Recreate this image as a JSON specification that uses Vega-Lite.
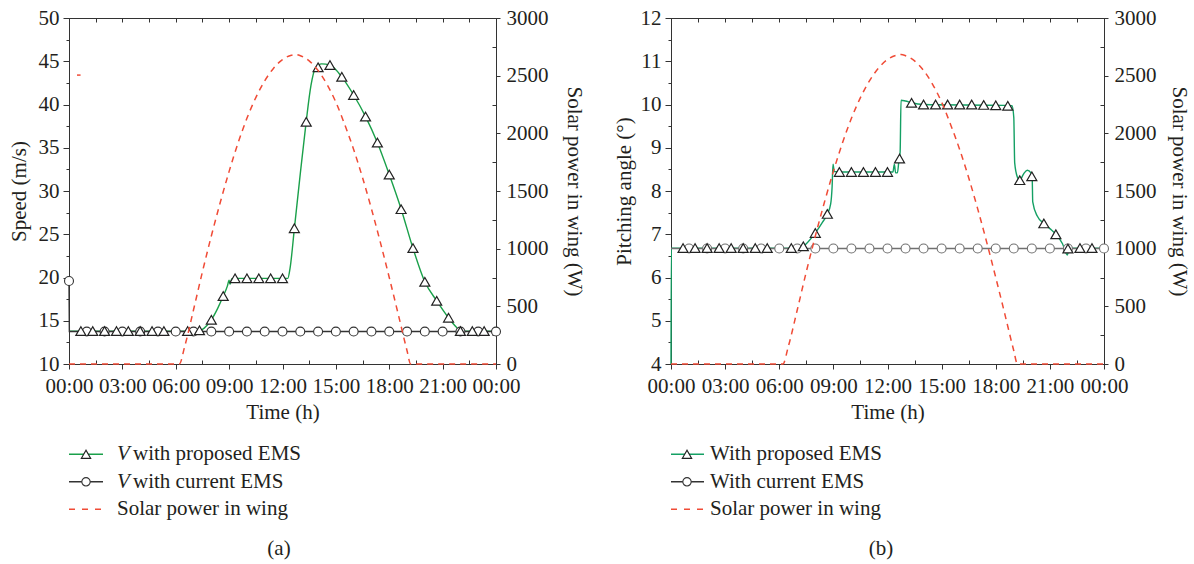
{
"$schema": "https://vega.github.io/schema/vega-lite/v6.json",
"background": "white",
"padding": {"left": 7, "top": 6, "right": 0, "bottom": 0},
"autosize": {"type": "pad"},
"bounds": "flush",
"spacing": 602,
"config": {
  "font": "Liberation Serif",
  "view": {"stroke": "#333333", "strokeWidth": 1},
  "axis": {"labelFont": "Liberation Serif", "titleFont": "Liberation Serif", "labelFontSize": 21, "titleFontSize": 21, "titleFontWeight": "normal", "labelColor": "#231f20", "titleColor": "#231f20", "domainColor": "#333333", "tickColor": "#333333", "grid": false},
  "text": {"font": "Liberation Serif", "fontSize": 21, "color": "#231f20"}
},
"datasets": {
  "solar": [{"t":0,"p":0},{"t":6.2,"p":0},{"t":6.5,"p":150},{"t":7,"p":470},{"t":7.5,"p":800},{"t":8,"p":1110},{"t":8.5,"p":1400},{"t":9,"p":1670},{"t":9.5,"p":1915},{"t":10,"p":2130},{"t":10.5,"p":2310},{"t":11,"p":2455},{"t":11.5,"p":2565},{"t":12,"p":2640},{"t":12.5,"p":2677},{"t":12.75,"p":2683},{"t":13,"p":2673},{"t":13.5,"p":2628},{"t":14,"p":2545},{"t":14.5,"p":2425},{"t":15,"p":2270},{"t":15.5,"p":2075},{"t":16,"p":1860},{"t":16.5,"p":1615},{"t":17,"p":1345},{"t":17.5,"p":1055},{"t":18,"p":750},{"t":18.5,"p":435},{"t":19,"p":115},{"t":19.2,"p":0},{"t":24,"p":0}],
  "aStray": [{"t":0.45,"p":2505},{"t":0.65,"p":2505}],
  "aProp": [{"t":0,"v":13.8},{"t":7.3,"v":13.8},{"t":7.6,"v":14.15},{"t":8.0,"v":15.1},{"t":8.35,"v":16.4},{"t":8.67,"v":17.85},{"t":8.9,"v":19.0},{"t":9.0,"v":19.7},{"t":9.05,"v":19.2},{"t":9.15,"v":19.85},{"t":9.4,"v":19.9},{"t":12.3,"v":19.9},{"t":12.42,"v":21.0},{"t":12.67,"v":25.7},{"t":13.0,"v":32.0},{"t":13.33,"v":38.0},{"t":13.6,"v":42.2},{"t":13.85,"v":44.2},{"t":14.2,"v":44.7},{"t":14.67,"v":44.55},{"t":15.33,"v":43.2},{"t":16.0,"v":41.1},{"t":16.67,"v":38.6},{"t":17.33,"v":35.6},{"t":18.0,"v":31.9},{"t":18.67,"v":27.9},{"t":19.33,"v":23.4},{"t":20.0,"v":19.5},{"t":20.67,"v":17.3},{"t":21.33,"v":15.35},{"t":21.75,"v":14.3},{"t":22.0,"v":13.8},{"t":24,"v":13.8}],
  "aPropM": [{"t":0.667,"v":13.8},{"t":1.333,"v":13.8},{"t":2,"v":13.8},{"t":2.667,"v":13.8},{"t":3.333,"v":13.8},{"t":4,"v":13.8},{"t":4.667,"v":13.8},{"t":5.333,"v":13.8},{"t":6.667,"v":13.8},{"t":7.333,"v":13.9},{"t":8,"v":15.1},{"t":8.667,"v":17.85},{"t":9.333,"v":19.9},{"t":10,"v":19.9},{"t":10.667,"v":19.9},{"t":11.333,"v":19.9},{"t":12,"v":19.9},{"t":12.667,"v":25.7},{"t":13.333,"v":38.0},{"t":14,"v":44.3},{"t":14.667,"v":44.55},{"t":15.333,"v":43.2},{"t":16,"v":41.1},{"t":16.667,"v":38.6},{"t":17.333,"v":35.6},{"t":18,"v":31.9},{"t":18.667,"v":27.9},{"t":19.333,"v":23.4},{"t":20,"v":19.5},{"t":20.667,"v":17.3},{"t":21.333,"v":15.35},{"t":22,"v":13.8},{"t":22.667,"v":13.8},{"t":23.333,"v":13.8}],
  "aCur": [{"t":0,"v":19.6},{"t":0.02,"v":13.75},{"t":24,"v":13.75}],
  "aCurM": [{"t":0,"v":19.6},{"t":1,"v":13.75},{"t":2,"v":13.75},{"t":3,"v":13.75},{"t":4,"v":13.75},{"t":5,"v":13.75},{"t":6,"v":13.75},{"t":7,"v":13.75},{"t":8,"v":13.75},{"t":9,"v":13.75},{"t":10,"v":13.75},{"t":11,"v":13.75},{"t":12,"v":13.75},{"t":13,"v":13.75},{"t":14,"v":13.75},{"t":15,"v":13.75},{"t":16,"v":13.75},{"t":17,"v":13.75},{"t":18,"v":13.75},{"t":19,"v":13.75},{"t":20,"v":13.75},{"t":21,"v":13.75},{"t":22,"v":13.75},{"t":23,"v":13.75},{"t":24,"v":13.75}],
  "bProp": [{"t":0,"v":4.0},{"t":0.02,"v":6.68},{"t":7.2,"v":6.68},{"t":7.5,"v":6.78},{"t":8.0,"v":7.03},{"t":8.4,"v":7.28},{"t":8.67,"v":7.47},{"t":8.85,"v":7.7},{"t":8.93,"v":8.1},{"t":8.98,"v":8.62},{"t":9.05,"v":8.45},{"t":9.3,"v":8.44},{"t":12.3,"v":8.44},{"t":12.38,"v":8.62},{"t":12.45,"v":8.42},{"t":12.55,"v":8.42},{"t":12.62,"v":8.65},{"t":12.7,"v":8.9},{"t":12.75,"v":10.1},{"t":13.0,"v":10.08},{"t":13.33,"v":10.04},{"t":14,"v":10.0},{"t":18.5,"v":9.98},{"t":18.9,"v":9.97},{"t":19.0,"v":9.7},{"t":19.05,"v":8.65},{"t":19.2,"v":8.32},{"t":19.33,"v":8.25},{"t":19.55,"v":8.4},{"t":19.75,"v":8.48},{"t":19.95,"v":8.42},{"t":20.02,"v":8.3},{"t":20.05,"v":7.75},{"t":20.3,"v":7.42},{"t":20.67,"v":7.25},{"t":21.0,"v":7.13},{"t":21.33,"v":7.0},{"t":21.7,"v":6.78},{"t":21.97,"v":6.52},{"t":22.05,"v":6.68},{"t":24,"v":6.68}],
  "bPropM": [{"t":0.667,"v":6.68},{"t":1.333,"v":6.68},{"t":2,"v":6.68},{"t":2.667,"v":6.68},{"t":3.333,"v":6.68},{"t":4,"v":6.68},{"t":4.667,"v":6.68},{"t":5.333,"v":6.68},{"t":6.667,"v":6.68},{"t":7.333,"v":6.72},{"t":8,"v":7.03},{"t":8.667,"v":7.47},{"t":9.333,"v":8.44},{"t":10,"v":8.44},{"t":10.667,"v":8.44},{"t":11.333,"v":8.44},{"t":12,"v":8.44},{"t":12.667,"v":8.75},{"t":13.333,"v":10.04},{"t":14,"v":10.0},{"t":14.667,"v":10.0},{"t":15.333,"v":10.0},{"t":16,"v":10.0},{"t":16.667,"v":10.0},{"t":17.333,"v":9.99},{"t":18,"v":9.98},{"t":18.667,"v":9.97},{"t":19.333,"v":8.25},{"t":20,"v":8.34},{"t":20.667,"v":7.25},{"t":21.333,"v":7.0},{"t":22,"v":6.67},{"t":22.667,"v":6.68},{"t":23.333,"v":6.68}],
  "bCur": [{"t":0,"v":6.67},{"t":24,"v":6.67}],
  "bCurM": [{"t":1,"v":6.67},{"t":2,"v":6.67},{"t":3,"v":6.67},{"t":4,"v":6.67},{"t":5,"v":6.67},{"t":6,"v":6.67},{"t":7,"v":6.67},{"t":8,"v":6.67},{"t":9,"v":6.67},{"t":10,"v":6.67},{"t":11,"v":6.67},{"t":12,"v":6.67},{"t":13,"v":6.67},{"t":14,"v":6.67},{"t":15,"v":6.67},{"t":16,"v":6.67},{"t":17,"v":6.67},{"t":18,"v":6.67},{"t":19,"v":6.67},{"t":20,"v":6.67},{"t":21,"v":6.67},{"t":22,"v":6.67},{"t":23,"v":6.67},{"t":24,"v":6.67}]
},
"hconcat": [
 {
  "bounds": "flush",
  "spacing": 70,
  "vconcat": [
   {
    "width": 427, "height": 346,
    "layer": [
     {
      "encoding": {
        "x": {"field": "t", "type": "quantitative", "scale": {"domain": [0, 24], "nice": false, "zero": false},
              "axis": {"orient": "top", "values": [0,1.5,3,4.5,6,7.5,9,10.5,12,13.5,15,16.5,18,19.5,21,22.5,24], "labels": false, "title": null, "domain": false, "tickSize": -4}},
        "y": {"field": "v", "type": "quantitative", "scale": {"domain": [10, 50], "nice": false, "zero": false},
              "axis": {"orient": "left", "values": [10,12.5,15,17.5,20,22.5,25,27.5,30,32.5,35,37.5,40,42.5,45,47.5,50], "labelExpr": "datum.value % 5 == 0 ? '' + datum.value : ''", "labelOverlap": false, "tickSize": {"condition": {"test": "datum.value % 5 == 0", "value": 6}, "value": 3}, "labelPadding": 4, "title": "Speed (m/s)", "titlePadding": 9}}
      },
      "layer": [
        {"data": {"name": "aProp"}, "mark": {"type": "line", "interpolate": "monotone", "color": "#1aa04a", "strokeWidth": 1.4}},
        {"data": {"name": "aCur"}, "mark": {"type": "line", "color": "#333333", "strokeWidth": 1.4}},
        {"data": {"name": "aCurM"}, "mark": {"type": "point", "shape": "circle", "size": 80, "filled": true, "fill": "#ffffff", "stroke": "#333333", "strokeWidth": 1.1, "opacity": 1}},
        {"data": {"name": "aPropM"}, "mark": {"type": "point", "shape": "triangle-up", "size": 100, "filled": true, "fill": "#ffffff", "stroke": "#222222", "strokeWidth": 1.2, "opacity": 1}}
      ]
     },
     {
      "encoding": {
        "x": {"field": "t", "type": "quantitative", "scale": {"domain": [0, 24], "nice": false, "zero": false},
              "axis": {"orient": "bottom", "values": [0,1.5,3,4.5,6,7.5,9,10.5,12,13.5,15,16.5,18,19.5,21,22.5,24], "labelExpr": "datum.value % 3 == 0 ? ((datum.value % 24) < 10 ? '0' : '') + (datum.value % 24) + ':00' : ''", "labelFlush": false, "labelOverlap": false, "tickSize": {"condition": {"test": "datum.value % 3 == 0", "value": 5}, "value": -4}, "labelPadding": 6, "title": "Time (h)", "titlePadding": 5}},
        "y": {"field": "p", "type": "quantitative", "scale": {"domain": [0, 3000], "nice": false, "zero": false},
              "axis": {"orient": "right", "values": [0,250,500,750,1000,1250,1500,1750,2000,2250,2500,2750,3000], "labelExpr": "datum.value % 500 == 0 ? '' + datum.value : ''", "labelOverlap": false, "tickSize": {"condition": {"test": "datum.value % 500 == 0", "value": 4}, "value": -4}, "labelPadding": 6, "title": "Solar power in wing (W)", "titlePadding": 15}}
      },
      "layer": [
        {"data": {"name": "solar"}, "mark": {"type": "line", "interpolate": "monotone", "color": "#f04b36", "strokeWidth": 1.5, "strokeDash": [6, 5]}},
        {"data": {"name": "aStray"}, "mark": {"type": "line", "color": "#f04b36", "strokeWidth": 1.5}}
      ]
     }
    ],
    "resolve": {"scale": {"x": "independent", "y": "independent"}}
   },
   {
    "width": 427, "height": 130,
    "view": {"stroke": null},
    "encoding": {
      "y": {"field": "row", "type": "quantitative", "scale": {"domain": [0.262, 4.989], "reverse": true, "nice": false, "zero": false}, "axis": null}
    },
    "layer": [
      {"data": {"values": [{"row": 1}]}, "mark": {"type": "rule", "color": "#1aa04a", "strokeWidth": 1.4},
       "encoding": {"x": {"datum": 0, "type": "quantitative", "scale": {"domain": [0, 427], "nice": false, "zero": false}, "axis": null}, "x2": {"datum": 34}}},
      {"data": {"values": [{"row": 2}]}, "mark": {"type": "rule", "color": "#333333", "strokeWidth": 1.4},
       "encoding": {"x": {"datum": 0, "type": "quantitative"}, "x2": {"datum": 34}}},
      {"data": {"values": [{"row": 3}]}, "mark": {"type": "rule", "color": "#f04b36", "strokeWidth": 1.5, "strokeDash": [6, 7]},
       "encoding": {"x": {"datum": 0, "type": "quantitative"}, "x2": {"datum": 34}}},
      {"data": {"values": [{"row": 1}]}, "mark": {"type": "point", "shape": "triangle-up", "size": 85, "filled": true, "fill": "#ffffff", "stroke": "#222222", "strokeWidth": 1.2, "opacity": 1},
       "encoding": {"x": {"datum": 17, "type": "quantitative"}}},
      {"data": {"values": [{"row": 2}]}, "mark": {"type": "point", "shape": "circle", "size": 70, "filled": true, "fill": "#ffffff", "stroke": "#333333", "strokeWidth": 1.1, "opacity": 1},
       "encoding": {"x": {"datum": 17, "type": "quantitative"}}},
      {"data": {"values": [{"row": 1, "label": "V"}, {"row": 2, "label": "V"}]}, "mark": {"type": "text", "align": "left", "baseline": "middle", "fontStyle": "italic"},
       "encoding": {"x": {"datum": 48, "type": "quantitative"}, "text": {"field": "label"}}},
      {"data": {"values": [{"row": 1, "label": "with proposed EMS"}, {"row": 2, "label": "with current EMS"}]}, "mark": {"type": "text", "align": "left", "baseline": "middle"},
       "encoding": {"x": {"datum": 64, "type": "quantitative"}, "text": {"field": "label"}}},
      {"data": {"values": [{"row": 3, "label": "Solar power in wing"}]}, "mark": {"type": "text", "align": "left", "baseline": "middle"},
       "encoding": {"x": {"datum": 48, "type": "quantitative"}, "text": {"field": "label"}}},
      {"data": {"values": [{"row": 4.45, "label": "(a)"}]}, "mark": {"type": "text", "align": "center", "baseline": "middle"},
       "encoding": {"x": {"datum": 210, "type": "quantitative"}, "text": {"field": "label"}}}
    ]
   }
  ]
 },
 {
  "bounds": "flush",
  "spacing": 70,
  "vconcat": [
   {
    "width": 433, "height": 346,
    "layer": [
     {
      "encoding": {
        "x": {"field": "t", "type": "quantitative", "scale": {"domain": [0, 24], "nice": false, "zero": false},
              "axis": {"orient": "top", "values": [0,1.5,3,4.5,6,7.5,9,10.5,12,13.5,15,16.5,18,19.5,21,22.5,24], "labels": false, "title": null, "domain": false, "tickSize": -4}},
        "y": {"field": "v", "type": "quantitative", "scale": {"domain": [4, 12], "nice": false, "zero": false},
              "axis": {"orient": "left", "values": [4,4.5,5,5.5,6,6.5,7,7.5,8,8.5,9,9.5,10,10.5,11,11.5,12], "labelExpr": "datum.value % 1 == 0 ? '' + datum.value : ''", "labelOverlap": false, "tickSize": {"condition": {"test": "datum.value % 1 == 0", "value": 6}, "value": 3}, "labelPadding": 4, "title": "Pitching angle (°)", "titlePadding": 6}}
      },
      "layer": [
        {"data": {"name": "bProp"}, "mark": {"type": "line", "interpolate": "monotone", "color": "#14a064", "strokeWidth": 1.4}},
        {"data": {"name": "bCur"}, "mark": {"type": "line", "color": "#707070", "strokeWidth": 1.4}},
        {"data": {"name": "bCurM"}, "mark": {"type": "point", "shape": "circle", "size": 80, "filled": true, "fill": "#ffffff", "stroke": "#707070", "strokeWidth": 1.1, "opacity": 1}},
        {"data": {"name": "bPropM"}, "mark": {"type": "point", "shape": "triangle-up", "size": 100, "filled": true, "fill": "#ffffff", "stroke": "#222222", "strokeWidth": 1.2, "opacity": 1}}
      ]
     },
     {
      "encoding": {
        "x": {"field": "t", "type": "quantitative", "scale": {"domain": [0, 24], "nice": false, "zero": false},
              "axis": {"orient": "bottom", "values": [0,1.5,3,4.5,6,7.5,9,10.5,12,13.5,15,16.5,18,19.5,21,22.5,24], "labelExpr": "datum.value % 3 == 0 ? ((datum.value % 24) < 10 ? '0' : '') + (datum.value % 24) + ':00' : ''", "labelFlush": false, "labelOverlap": false, "tickSize": {"condition": {"test": "datum.value % 3 == 0", "value": 5}, "value": -4}, "labelPadding": 6, "title": "Time (h)", "titlePadding": 5}},
        "y": {"field": "p", "type": "quantitative", "scale": {"domain": [0, 3000], "nice": false, "zero": false},
              "axis": {"orient": "right", "values": [0,250,500,750,1000,1250,1500,1750,2000,2250,2500,2750,3000], "labelExpr": "datum.value % 500 == 0 ? '' + datum.value : ''", "labelOverlap": false, "tickSize": {"condition": {"test": "datum.value % 500 == 0", "value": 4}, "value": -4}, "labelPadding": 6, "title": "Solar power in wing (W)", "titlePadding": 12}}
      },
      "layer": [
        {"data": {"name": "solar"}, "mark": {"type": "line", "interpolate": "monotone", "color": "#f04b36", "strokeWidth": 1.5, "strokeDash": [6, 5]}}
      ]
     }
    ],
    "resolve": {"scale": {"x": "independent", "y": "independent"}}
   },
   {
    "width": 433, "height": 130,
    "view": {"stroke": null},
    "encoding": {
      "y": {"field": "row", "type": "quantitative", "scale": {"domain": [0.262, 4.989], "reverse": true, "nice": false, "zero": false}, "axis": null}
    },
    "layer": [
      {"data": {"values": [{"row": 1}]}, "mark": {"type": "rule", "color": "#14a064", "strokeWidth": 1.4},
       "encoding": {"x": {"datum": 0, "type": "quantitative", "scale": {"domain": [0, 433], "nice": false, "zero": false}, "axis": null}, "x2": {"datum": 33}}},
      {"data": {"values": [{"row": 2}]}, "mark": {"type": "rule", "color": "#333333", "strokeWidth": 1.4},
       "encoding": {"x": {"datum": 0, "type": "quantitative"}, "x2": {"datum": 33}}},
      {"data": {"values": [{"row": 3}]}, "mark": {"type": "rule", "color": "#f04b36", "strokeWidth": 1.5, "strokeDash": [6, 7]},
       "encoding": {"x": {"datum": 0, "type": "quantitative"}, "x2": {"datum": 33}}},
      {"data": {"values": [{"row": 1}]}, "mark": {"type": "point", "shape": "triangle-up", "size": 85, "filled": true, "fill": "#ffffff", "stroke": "#222222", "strokeWidth": 1.2, "opacity": 1},
       "encoding": {"x": {"datum": 16, "type": "quantitative"}}},
      {"data": {"values": [{"row": 2}]}, "mark": {"type": "point", "shape": "circle", "size": 70, "filled": true, "fill": "#ffffff", "stroke": "#333333", "strokeWidth": 1.1, "opacity": 1},
       "encoding": {"x": {"datum": 16, "type": "quantitative"}}},
      {"data": {"values": [{"row": 1, "label": "With proposed EMS"}, {"row": 2, "label": "With current EMS"}, {"row": 3, "label": "Solar power in wing"}]}, "mark": {"type": "text", "align": "left", "baseline": "middle"},
       "encoding": {"x": {"datum": 39, "type": "quantitative"}, "text": {"field": "label"}}},
      {"data": {"values": [{"row": 4.45, "label": "(b)"}]}, "mark": {"type": "text", "align": "center", "baseline": "middle"},
       "encoding": {"x": {"datum": 210, "type": "quantitative"}, "text": {"field": "label"}}}
    ]
   }
  ]
 }
]
}
